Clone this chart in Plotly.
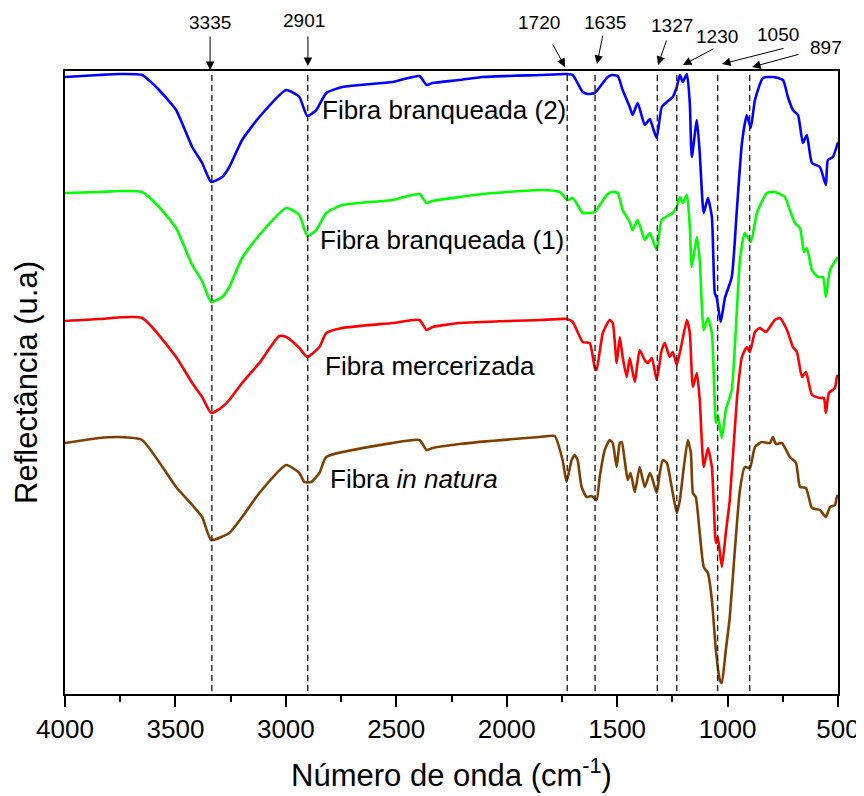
import plotly.graph_objects as go

# ---------------- data (wavenumber cm-1, reflectance u.a. offset) ----------------
wn_b2 = [4000, 3846, 3755, 3651, 3574, 3497, 3424, 3379, 3338, 3288, 3256, 3198, 3120, 2998, 2939, 2903,
         2862, 2817, 2744, 2517, 2395, 2363, 2336, 2214, 2109, 1851, 1729, 1701, 1656, 1633, 1602, 1547,
         1525, 1497, 1475, 1443, 1430, 1407, 1375, 1352, 1339, 1321, 1298, 1275, 1248, 1230, 1216, 1203,
         1184, 1171, 1162, 1139, 1126, 1108, 1089, 1071, 1058, 1049, 1031, 1012, 981, 958, 935, 913, 895,
         876, 840, 795, 749, 727, 704, 681, 659, 641, 618, 582, 555, 546, 523, 500]
r_b2 = [617, 619, 620, 619, 604, 584, 547, 531, 512, 517, 527, 554, 577, 604, 597, 578,
        584, 601, 607, 612, 618, 609, 611, 614, 617, 619, 620, 619, 602, 600, 601, 616,
        619, 618, 604, 587, 579, 591, 569, 575, 567, 556, 587, 592, 597, 607, 619, 612,
        620, 591, 537, 574, 541, 481, 496, 477, 401, 396, 372, 396, 417, 484, 551, 579, 566,
        594, 616, 617, 614, 597, 584, 579, 551, 559, 531, 527, 509, 534, 537, 552]

wn_b1 = [4000, 3846, 3755, 3651, 3574, 3497, 3424, 3379, 3338, 3288, 3256, 3198, 3120, 2998, 2939, 2903,
         2862, 2817, 2744, 2517, 2395, 2363, 2336, 2214, 2109, 1851, 1760, 1724, 1701, 1656, 1633, 1602,
         1547, 1525, 1497, 1475, 1443, 1430, 1407, 1375, 1352, 1321, 1298, 1248, 1230, 1216, 1203, 1184,
         1171, 1162, 1139, 1126, 1108, 1089, 1071, 1053, 1044, 1026, 1008, 981, 944, 922, 895, 867, 822,
         786, 740, 718, 695, 672, 654, 641, 618, 591, 568, 555, 536, 500]
r_b1 = [501, 502, 503, 502, 487, 466, 429, 413, 392, 397, 407, 436, 459, 486, 479, 458,
        464, 481, 489, 494, 500, 491, 493, 497, 500, 504, 502, 494, 496, 481, 481, 482,
        499, 502, 501, 484, 472, 464, 474, 454, 461, 444, 474, 481, 487, 497, 491, 499,
        467, 427, 457, 434, 364, 376, 361, 271, 279, 256, 284, 304, 434, 461, 452, 481, 501,
        502, 497, 484, 471, 466, 442, 446, 424, 417, 417, 397, 424, 437]

wn_mer = [4000, 3846, 3651, 3497, 3424, 3379, 3338, 3288, 3256, 3198, 3120, 3030, 2998, 2939, 2903, 2848,
          2817, 2744, 2517, 2395, 2363, 2336, 2214, 1851, 1729, 1701, 1656, 1624, 1602, 1593, 1565, 1534,
          1520, 1502, 1488, 1475, 1457, 1443, 1420, 1398, 1375, 1361, 1343, 1321, 1298, 1284, 1262, 1248,
          1230, 1207, 1184, 1171, 1157, 1139, 1126, 1108, 1089, 1071, 1053, 1044, 1026, 1008, 990, 958,
          935, 913, 899, 876, 854, 826, 786, 763, 731, 704, 686, 663, 645, 618, 582, 564, 555, 541, 514,
          505, 500]
r_mer = [373, 375, 376, 337, 311, 297, 281, 287, 294, 311, 331, 358, 357, 346, 337, 347,
         361, 366, 371, 374, 364, 367, 371, 374, 375, 372, 352, 351, 327, 324, 361, 374,
         371, 331, 357, 337, 317, 336, 312, 344, 334, 331, 336, 314, 344, 351, 337, 342,
         329, 351, 374, 361, 307, 321, 294, 227, 246, 227, 151, 157, 127, 161, 194, 294,
         337, 347, 342, 362, 366, 362, 374, 376, 364, 347, 342, 317, 322, 299, 296, 296, 281, 301, 306,
         317, 319]

wn_nat = [4000, 3846, 3755, 3651, 3497, 3424, 3379, 3338, 3256, 3198, 3120, 2998, 2939, 2916, 2885, 2848,
          2817, 2517, 2395, 2363, 2336, 2214, 1851, 1783, 1747, 1729, 1706, 1692, 1679, 1661, 1638, 1615,
          1593, 1579, 1556, 1534, 1520, 1502, 1488, 1479, 1466, 1452, 1439, 1420, 1398, 1375, 1352, 1343,
          1321, 1307, 1293, 1275, 1253, 1230, 1216, 1198, 1180, 1166, 1157, 1144, 1126, 1108, 1089, 1071,
          1053, 1035, 1026, 1008, 990, 967, 944, 922, 899, 876, 845, 808, 795, 781, 754, 718, 690, 672,
          645, 618, 582, 555, 536, 514, 505, 500]
r_nat = [251, 256, 257, 254, 207, 189, 177, 154, 161, 177, 201, 229, 221, 212, 212, 221,
         237, 251, 254, 244, 246, 250, 257, 258, 234, 212, 234, 239, 234, 207, 197, 198,
         194, 217, 244, 254, 251, 227, 251, 252, 234, 214, 221, 202, 227, 207, 221, 217,
         201, 221, 234, 231, 207, 181, 194, 227, 254, 241, 201, 197, 161, 127, 121, 94,
         44, 14, 11, 44, 77, 144, 204, 227, 226, 247, 252, 251, 257, 250, 251, 237, 231, 207,
         206, 186, 184, 177, 187, 189, 197, 199]

series_names = ["Fibra branqueada (2)", "Fibra branqueada (1)", "Fibra mercerizada", "Fibra <i>in natura</i>"]
series_colors = ["#0000FF", "#00FF00", "#FF0000", "#7F3F00"]

band_labels = ["3335", "2901", "1720", "1635", "1327", "1230", "1050", "897"]
band_lines = [3335, 2901, 1726, 1600, 1318, 1230, 1045, 900]

x_ticks = [4000, 3500, 3000, 2500, 2000, 1500, 1000, 500]

Y_MAX = 623.0

# ---------------- figure ----------------
fig = go.Figure()
for wn, r, nm, col in zip([wn_b2, wn_b1, wn_mer, wn_nat], [r_b2, r_b1, r_mer, r_nat],
                          series_names, series_colors):
    fig.add_trace(go.Scatter(x=wn, y=r, mode="lines", name=nm,
                             line=dict(color=col, width=2.6, shape="spline", smoothing=0.5),
                             showlegend=False))

# dashed band lines
for bx in band_lines:
    fig.add_shape(type="line", xref="x", yref="paper", x0=bx, x1=bx, y0=0.005, y1=1,
                  line=dict(color="#222222", width=1.4, dash="6px,4px"), layer="above")

# curve labels
label_pos = [(2845, 584), (2854, 454), (2832, 328), (2809, 215)]
for nm, (lx, ly) in zip(series_names, label_pos):
    fig.add_annotation(x=lx, y=ly, xref="x", yref="y", text=nm, showarrow=False,
                       xanchor="left", yanchor="middle",
                       font=dict(family="Liberation Sans, Arial", size=26, color="black"))

# band labels + arrows (y given in paper fractions of the plot height)
text_pos = [(3343, 671), (2918, 674), (1854, 671), (1555, 672), (1252, 669), (1048, 657), (772, 659), (554, 647)]
tips = [(3343, 624), (2900, 628), (1736, 627), (1591, 630), (1315, 629), (1202, 629), (1025, 630), (889, 627)]
tails = [(0, -35), (0, -31), (-13, -24), (6, -30), (9, -26), (32, -17), (63, -16), (48, -13)]
for lab, (tx, ty), (px, py), (ax, ay) in zip(band_labels, text_pos, tips, tails):
    fig.add_annotation(x=tx, y=ty / Y_MAX, xref="x", yref="paper", text=lab, showarrow=False,
                       xanchor="center", yanchor="middle",
                       font=dict(family="Liberation Sans, Arial", size=19, color="black"))
    fig.add_annotation(x=px, y=py / Y_MAX, xref="x", yref="paper", text="", showarrow=True,
                       ax=ax, ay=ay, arrowhead=2, arrowsize=1.7, arrowwidth=1,
                       arrowcolor="black")

# the page body adds an 8px margin, so the figure is sized to fit the 864x796 window
fig.update_layout(
    width=856, height=788,
    margin=dict(l=57, r=26, t=63, b=102),
    paper_bgcolor="white", plot_bgcolor="white",
    font=dict(family="Liberation Sans, Arial", color="black"),
)
fig.update_xaxes(range=[4000, 500], tickvals=x_ticks, ticktext=[str(v) for v in x_ticks],
                 ticks="outside", ticklen=11, tickwidth=2, tickcolor="black",
                 minor=dict(dtick=250, tick0=0, ticks="outside", ticklen=6, tickwidth=2, tickcolor="black"),
                 showline=True, linewidth=2, linecolor="black", mirror=True,
                 showgrid=False, zeroline=False, automargin=False,
                 tickfont=dict(size=26),
                 title=dict(text="Número de onda (cm<sup>-1</sup>)", font=dict(size=31), standoff=21))
fig.update_yaxes(range=[0, Y_MAX], showticklabels=False, ticks="",
                 showline=True, linewidth=2, linecolor="black", mirror=True,
                 showgrid=False, zeroline=False, automargin=False,
                 title=dict(text="Reflectância (u.a)", font=dict(size=31), standoff=16))

fig.write_html("out.html")
